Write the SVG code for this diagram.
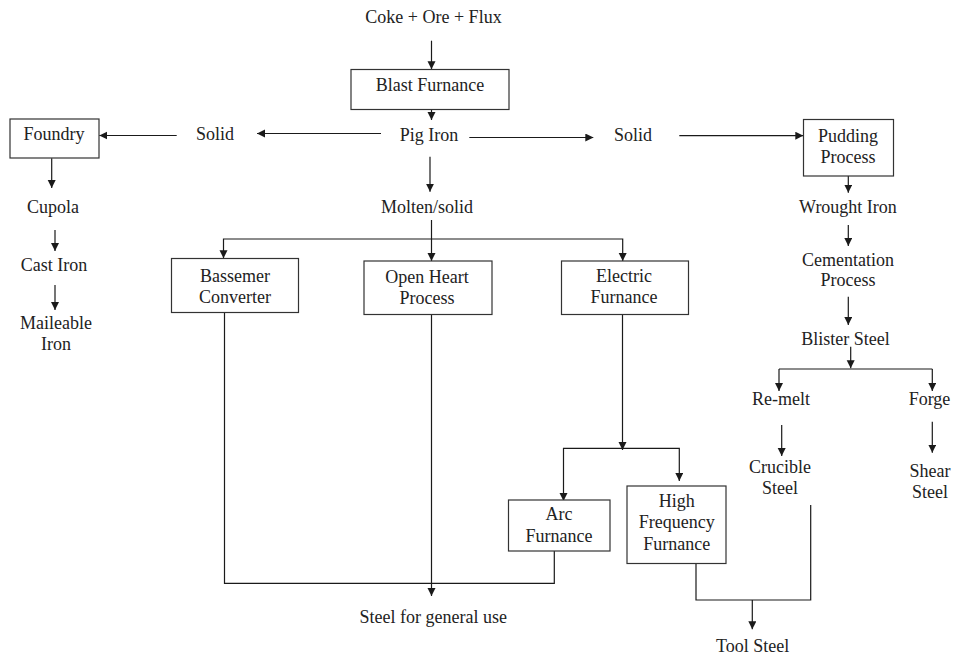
<svg xmlns="http://www.w3.org/2000/svg" width="953" height="657" viewBox="0 0 953 657">
<style>
  text { font-family: "Liberation Serif", "Times New Roman", serif; font-size: 18px; fill: #222; text-anchor: middle; }
  .box { fill: #fff; stroke: #333; stroke-width: 1.2; }
  .c { fill: none; stroke: #1a1a1a; stroke-width: 1.2; }
  .a { marker-end: url(#ah); }
</style>
<defs>
  <marker id="ah" markerUnits="userSpaceOnUse" markerWidth="8" markerHeight="9" refX="8" refY="4" orient="auto">
    <path d="M0,0 L8,4 L0,8 z" fill="#1a1a1a"/>
  </marker>
</defs>
<rect width="953" height="657" fill="#fff"/>

<g id="connectors">
  <path class="c a" d="M431.5,40.7 V69.3"/>
  <path class="c a" d="M431.5,109.3 V120"/>
  <path class="c a" d="M381,133.5 H257"/>
  <path class="c a" d="M176.7,135.5 H99.3"/>
  <path class="c a" d="M51.7,158.3 V188"/>
  <path class="c a" d="M430,156.7 V191.7"/>
  <path class="c a" d="M469.3,137.5 H593.3"/>
  <path class="c a" d="M679.3,135.7 H803.3"/>
  <path class="c a" d="M848.3,176 V192.7"/>
  <path class="c a" d="M848.3,225 V246"/>
  <path class="c a" d="M848.3,296.7 V325"/>
  <path class="c a" d="M55,230 V251"/>
  <path class="c a" d="M55,285 V310"/>
  <path class="c a" d="M431.5,220 V261"/>
  <path class="c a" d="M431.5,239 H223.5 V258.3"/>
  <path class="c a" d="M431.5,239 H622.7 V261"/>
  <path class="c" d="M224.5,312.3 V583.3 H554.3 V551"/>
  <path class="c a" d="M431.5,314.3 V596"/>
  <path class="c a" d="M622.5,314.3 V450"/>
  <path class="c a" d="M622.5,448.3 H563.5 V501"/>
  <path class="c a" d="M622.5,448.3 H679.3 V481"/>
  <path class="c" d="M696,563.3 V600 H810.7 V505"/>
  <path class="c a" d="M752.3,600 V629.3"/>
  <path class="c a" d="M850.7,346.7 V368.3"/>
  <path class="c" d="M779,369 H932.3"/>
  <path class="c a" d="M779,369 V391"/>
  <path class="c a" d="M932.3,369 V391"/>
  <path class="c a" d="M781.7,425 V456"/>
  <path class="c a" d="M932.3,421.7 V452.7"/>
</g>

<g id="n-input"><text x="433.5" y="23">Coke + Ore + Flux</text></g>
<g id="n-blast"><rect class="box" x="351" y="69.5" width="158" height="40"/><text x="430" y="91">Blast Furnance</text></g>
<g id="n-pig"><text x="429" y="141">Pig Iron</text></g>
<g id="n-solid-left"><text x="215" y="140">Solid</text></g>
<g id="n-foundry"><rect class="box" x="10" y="119" width="89" height="39"/><text x="54" y="140">Foundry</text></g>
<g id="n-solid-right"><text x="633" y="140.5">Solid</text></g>
<g id="n-pudding"><rect class="box" x="803.5" y="119.5" width="90" height="56.5"/><text x="848" y="141.5">Pudding</text><text x="848" y="162.5">Process</text></g>
<g id="n-cupola"><text x="53" y="212.5">Cupola</text></g>
<g id="n-molten"><text x="427" y="213">Molten/solid</text></g>
<g id="n-wrought"><text x="848" y="212.7">Wrought Iron</text></g>
<g id="n-cementation"><text x="848" y="265.7">Cementation</text><text x="848" y="285.7">Process</text></g>
<g id="n-cast"><text x="54" y="270.7">Cast Iron</text></g>
<g id="n-maileable"><text x="56" y="329">Maileable</text><text x="56" y="350">Iron</text></g>
<g id="n-blister"><text x="845.5" y="344.5">Blister Steel</text></g>
<g id="n-bassemer"><rect class="box" x="171.5" y="258.5" width="127" height="54"/><text x="235" y="281.5">Bassemer</text><text x="235" y="302.5">Converter</text></g>
<g id="n-openheart"><rect class="box" x="364" y="261" width="128" height="53.5"/><text x="427" y="283.3">Open Heart</text><text x="427" y="304">Process</text></g>
<g id="n-electric"><rect class="box" x="561.5" y="261" width="127" height="53.5"/><text x="624" y="281.5">Electric</text><text x="624" y="302.5">Furnance</text></g>
<g id="n-remelt"><text x="781" y="405">Re-melt</text></g>
<g id="n-forge"><text x="929.5" y="405">Forge</text></g>
<g id="n-crucible"><text x="780" y="472.7">Crucible</text><text x="780" y="494.3">Steel</text></g>
<g id="n-shear"><text x="930" y="476.7">Shear</text><text x="930" y="497.7">Steel</text></g>
<g id="n-arc"><rect class="box" x="508.5" y="500" width="101.5" height="51"/><text x="559" y="520">Arc</text><text x="559" y="541.5">Furnance</text></g>
<g id="n-hf"><rect class="box" x="627" y="486" width="99" height="77.5"/><text x="676.7" y="506.7">High</text><text x="676.7" y="528.3">Frequency</text><text x="676.7" y="550">Furnance</text></g>
<g id="n-general"><text x="433.3" y="623.3">Steel for general use</text></g>
<g id="n-tool"><text x="752.7" y="651.7">Tool Steel</text></g>
</svg>
